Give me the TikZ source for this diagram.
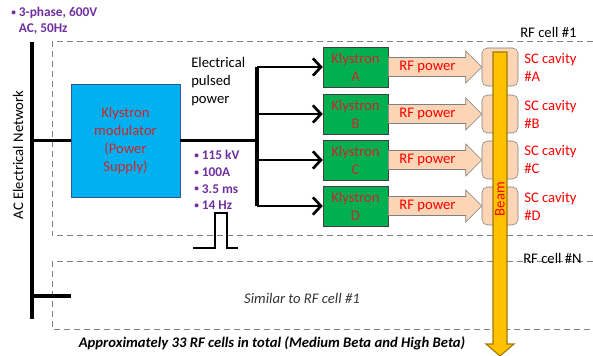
\documentclass[tikz,border=0pt]{standalone}
\usepackage{fontspec}
\setmainfont{Carlito}
\usetikzlibrary{arrows.meta,calc}
\definecolor{modblue}{HTML}{00B0F0}
\definecolor{modedge}{HTML}{2F5597}
\definecolor{klygreen}{HTML}{00B050}
\definecolor{boxtext}{HTML}{C8282D}
\definecolor{rfpeach}{HTML}{FBD5B5}
\definecolor{rfedge}{HTML}{7F7F7F}
\definecolor{beamgold}{HTML}{FFC000}
\definecolor{beamedge}{HTML}{9C7A00}
\definecolor{params}{HTML}{7030A0}
\definecolor{cellgray}{HTML}{808080}
\newcommand{\pbul}{\raisebox{.2ex}{\scriptsize\textbullet}\ }

\begin{document}
\begin{tikzpicture}[x=0.75pt,y=-0.75pt,
  txt/.style={font=\fontsize{11}{13.5}\selectfont,inner sep=0pt},
  small/.style={font=\fontsize{10}{12.5}\selectfont\bfseries,text=params,inner sep=0pt,align=left},
  modbox/.style={txt,draw=modedge,fill=modblue,text=boxtext,align=center,minimum width=81.75pt,minimum height=84.75pt},
  klybox/.style={txt,draw=black!75,fill=klygreen,text=boxtext,align=center,minimum width=48.75pt,minimum height=30pt},
  cavbox/.style={draw=rfedge,fill=rfpeach,rounded corners=4pt,minimum width=27pt,minimum height=28.5pt,inner sep=0pt},
  bus/.style={line width=2.4pt},
  feed/.style={line width=2.2pt,-{Straight Barb[length=6pt,width=13pt,line width=2pt]}},
  cellline/.style={cellgray,line width=0.75pt,dash pattern=on 4.5pt off 3pt}]
  \useasboundingbox (0,0) rectangle (593,356);

  \draw[cellline] (593,42) -| (52,236) -- (593,236);
  \draw[cellline] (593,262) -| (52,329) -- (593,329);
  \node[txt,anchor=base west] (cellone) at (520,38) {RF cell \#1};
  \node[txt,anchor=base west] (cellN) at (523,263) {RF cell \#N};

  \coordinate (acTop) at (32,42);
  \coordinate (acBot) at (32,319);
  \coordinate (acTap) at (71,296);
  \draw[bus] (acTop) -- (acBot);
  \draw[bus] (acTap -| acTop) -- (acTap);
  \node[txt,rotate=90] (acnet) at (18,155) {AC Electrical Network};
  \node[small,anchor=north west,font=\fontsize{10}{12}\selectfont\bfseries] (supply) at (11,7) {\pbul 3-phase, 600V\\\hphantom{\pbul}AC, 50Hz};

  \node[modbox] (modulator) at (125.5,140.5) {Klystron\\modulator\\(Power\\Supply)};
  \draw[bus] (modulator.west -| acTop) -- (modulator.west);

  \node[txt,anchor=west,align=left] (pulsed) at (191,82) {Electrical\\pulsed\\power};
  \node[small,anchor=west] (pulseparams) at (194,180) {\pbul 115 kV\\\pbul 100A\\\pbul 3.5 ms\\\pbul 14 Hz};
  \draw[line width=1.2pt] (193,248) -| (215,213) -| (227,248) -- (238,248);

  \foreach \k/\y in {A/67,B/114,C/160,D/206} {
    \coordinate (bus\k) at (257,\y);
    \node[klybox] (kly\k) at (355.5,\y) {Klystron\\\k};
    \node[cavbox] (cav\k) at (500,\y) {};
    \node[txt,anchor=west,align=left,text=red] (cavlabel\k) at (524,\y) {SC cavity\\\#\k};
    \draw[feed] (bus\k) -- (kly\k.west);
    \draw[draw=rfedge,fill=rfpeach] ($(kly\k.east)+(0,-9.5)$) -- ($(cav\k.west)+(-16,-9.5)$)
      -- ($(cav\k.west)+(-16,-16)$) -- (cav\k.west) -- ($(cav\k.west)+(-16,16)$)
      -- ($(cav\k.west)+(-16,9.5)$) -- ($(kly\k.east)+(0,9.5)$) -- cycle;
    \node[txt,text=red] (rf\k) at ($(kly\k.east)!0.42!(cav\k.west)$) {RF power};
  }
  \draw[bus] (busA) -- (busD);
  \draw[bus] (modulator.east) -- (modulator.east -| busA);

  \draw[draw=beamedge,fill=beamgold,line width=0.8pt] (493,52) -- (507,52) -- (507,344) -- (514,344)
    -- (500,356) -- (486,344) -- (493,344) -- cycle;
  \node[txt,rotate=90,text=red] (beam) at (500,199) {Beam};

  \node[txt,font=\fontsize{11}{13.5}\selectfont\itshape,text=black!80] (similar) at (302,298) {Similar to RF cell \#1};
  \node[txt,font=\fontsize{11}{13.5}\selectfont\bfseries\itshape] (total) at (272,343) {Approximately 33 RF cells in total (Medium Beta and High Beta)};
\end{tikzpicture}
\end{document}
